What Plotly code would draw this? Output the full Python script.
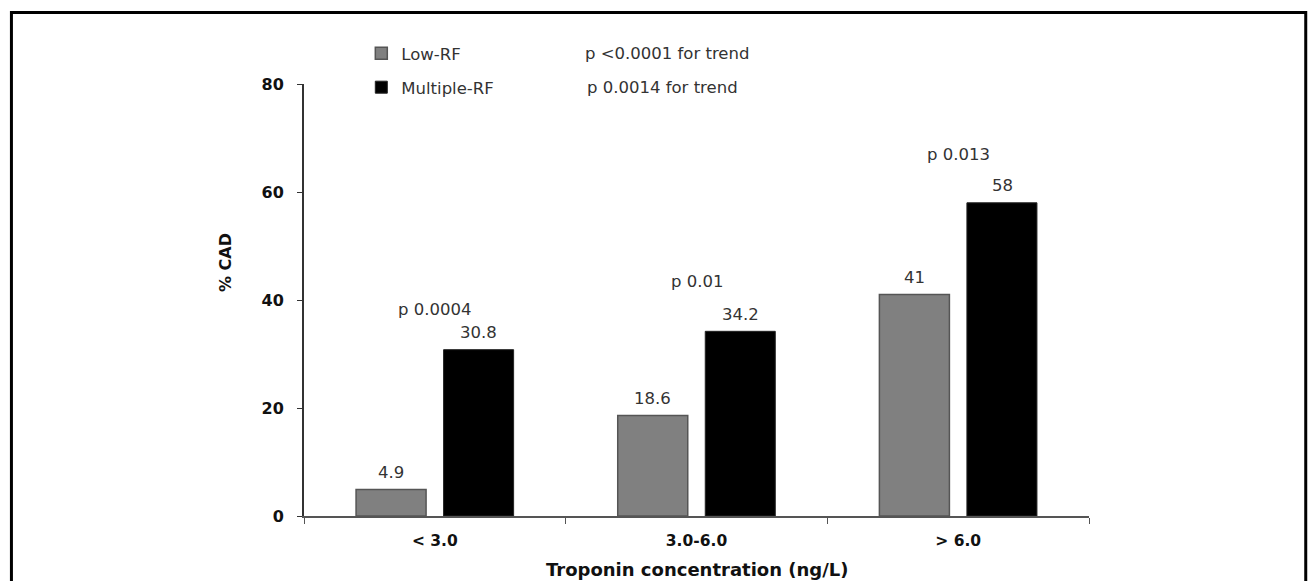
import plotly.graph_objects as go

# Troponin groups and % CAD per risk-factor group
categories = ["< 3.0", "3.0-6.0", "> 6.0"]
low_rf = [4.9, 18.6, 41]
multiple_rf = [30.8, 34.2, 58]
low_rf_labels = ["4.9", "18.6", "41"]
multiple_rf_labels = ["30.8", "34.2", "58"]

# Between-group p values shown above each troponin group
group_p_text = ["p 0.0004", "p 0.01", "p 0.013"]
group_p_y = [38.2, 43.4, 67.0]

# Trend p values shown beside the legend entries
trend_text = ["p <0.0001 for trend", "p 0.0014 for trend"]

y_ticks = [0, 20, 40, 60, 80]

FONT = "DejaVu Sans, Open Sans, sans-serif"
TEXT = "#333333"
LABEL_SIZE = 16.5

fig = go.Figure()
fig.add_trace(go.Bar(
    x=categories, y=low_rf, name="Low-RF",
    marker=dict(color="#808080", line=dict(color="#555555", width=1.5)),
    legend="legend",
))
fig.add_trace(go.Bar(
    x=categories, y=multiple_rf, name="Multiple-RF",
    marker=dict(color="#000000", line=dict(color="#222222", width=1)),
    legend="legend2",
))

annotations = []
# value labels above each bar
for cat, val, lab in zip(categories, low_rf, low_rf_labels):
    annotations.append(dict(x=cat, y=val, xref="x", yref="y", text=lab,
                            showarrow=False, xshift=-44, yshift=17,
                            font=dict(family=FONT, size=LABEL_SIZE, color=TEXT)))
for cat, val, lab in zip(categories, multiple_rf, multiple_rf_labels):
    annotations.append(dict(x=cat, y=val, xref="x", yref="y", text=lab,
                            showarrow=False, xshift=44, yshift=17,
                            font=dict(family=FONT, size=LABEL_SIZE, color=TEXT)))
# p values per group
for cat, yv, txt in zip(categories, group_p_y, group_p_text):
    annotations.append(dict(x=cat, y=yv, xref="x", yref="y", text=txt,
                            showarrow=False,
                            font=dict(family=FONT, size=LABEL_SIZE, color=TEXT)))
# trend p values
for txt, yp, xp in zip(trend_text, [1.0706, 0.992], [0.3554, 0.358]):
    annotations.append(dict(x=xp, y=yp, xref="paper", yref="paper", text=txt,
                            showarrow=False, xanchor="left", yanchor="middle",
                            font=dict(family=FONT, size=LABEL_SIZE, color=TEXT)))
# axis titles
annotations.append(dict(x=0.5, y=0, xref="paper", yref="paper",
                        text="<b>Troponin concentration (ng/L)</b>",
                        showarrow=False, yshift=-53, yanchor="middle",
                        font=dict(family=FONT, size=18, color="#111111")))
annotations.append(dict(x=0, y=0.5, xref="paper", yref="paper",
                        text="<b>% CAD</b>", textangle=-90,
                        showarrow=False, xshift=-79, yshift=37,
                        xanchor="center", yanchor="middle",
                        font=dict(family=FONT, size=16, color="#111111")))

legend_common = dict(
    orientation="v", xanchor="left", yanchor="middle",
    bgcolor="rgba(0,0,0,0)", itemwidth=30,
    font=dict(family=FONT, size=LABEL_SIZE, color=TEXT),
)

fig.update_layout(
    width=1311, height=581,
    margin=dict(l=304, r=222, t=84, b=65, autoexpand=False),
    paper_bgcolor="white", plot_bgcolor="white",
    barmode="group", bargap=0.331, bargroupgap=0.2,
    showlegend=True,
    legend=dict(x=0.073, y=1.0706, **legend_common),
    legend2=dict(x=0.073, y=0.992, **legend_common),
    annotations=annotations,
    shapes=[dict(type="rect", xref="paper", yref="paper",
                 x0=-0.3727, x1=1.2761, y0=-0.3, y1=1.1655,
                 line=dict(color="black", width=3), fillcolor="rgba(0,0,0,0)",
                 layer="above")],
    font=dict(family=FONT),
)

fig.update_xaxes(
    showline=True, linecolor="#555555", linewidth=1.5,
    ticks="outside", tickson="boundaries", ticklen=6, tickcolor="#555555",
    ticklabelstandoff=10,
    tickfont=dict(family=FONT, size=15.5, color="#111111", weight="bold"),
    showgrid=False, zeroline=False,
)
fig.update_yaxes(
    range=[0, 80], tickvals=y_ticks,
    showline=True, linecolor="#333333", linewidth=2,
    ticks="outside", ticklen=5, tickcolor="#333333",
    ticklabelstandoff=10,
    tickfont=dict(family=FONT, size=16, color="#111111", weight="bold"),
    showgrid=False, zeroline=False,
)

fig.write_html("out.html")
